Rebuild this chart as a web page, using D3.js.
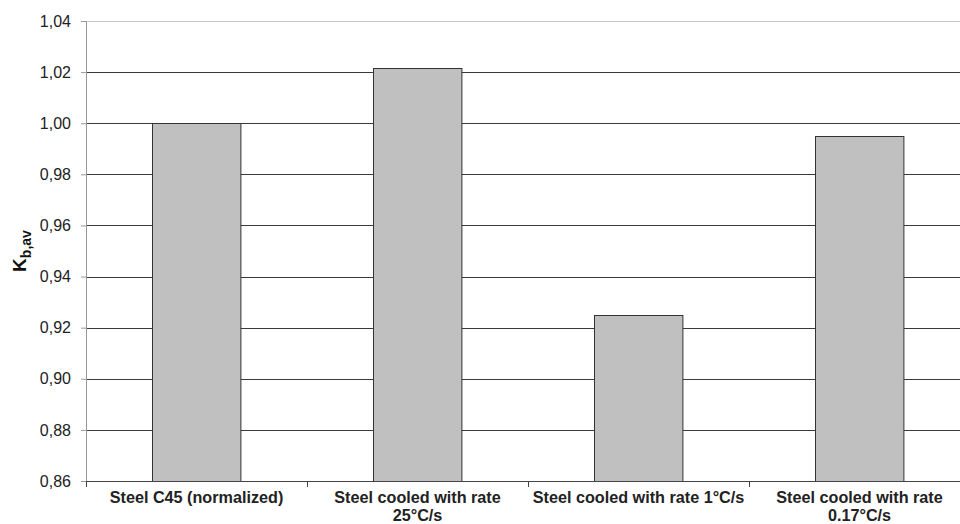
<!DOCTYPE html>
<html>
<head>
<meta charset="utf-8">
<script src="https://cdn.jsdelivr.net/npm/d3@7"></script>
<style>
  body { margin: 0; background: #fff; }
  svg { display: block; }
</style>
</head>
<body>
<svg id="chart"></svg>
<script>
const categories = [
    ["Steel C45 (normalized)"],
    ["Steel cooled with rate", "25°C/s"],
    ["Steel cooled with rate 1°C/s"],
    ["Steel cooled with rate", "0.17°C/s"]
];
const values = [1.000, 1.0215, 0.925, 0.995];
const yTicks = [0.86, 0.88, 0.90, 0.92, 0.94, 0.96, 0.98, 1.00, 1.02, 1.04];

const svgWidth = 960;
const svgHeight = 524;
const margin = { top: 21, right: -10, bottom: 43, left: 86 };
const width = svgWidth - margin.left - margin.right;
const height = svgHeight - margin.top - margin.bottom;

const svg = d3.select("#chart")
    .attr("width", svgWidth)
    .attr("height", svgHeight)
    .style("font-family", "Arial, 'Liberation Sans', sans-serif");

const g = svg.append("g").attr("transform", `translate(${margin.left},${margin.top})`);

const xScale = d3.scaleBand().domain(d3.range(categories.length)).range([0, width]).paddingInner(0.6).paddingOuter(0.3);
const xEdges = d3.scaleBand().domain(d3.range(categories.length)).range([0, width]);
const yScale = d3.scaleLinear().domain([0.86, 1.04]).range([height, 0]);

// gridlines
g.selectAll(".grid")
    .data(yTicks.slice(1))
    .enter().append("line")
    .attr("class", "grid")
    .attr("x1", 0)
    .attr("x2", svgWidth - margin.left)
    .attr("y1", d => Math.round(yScale(d)) + 0.5)
    .attr("y2", d => Math.round(yScale(d)) + 0.5)
    .attr("stroke", d => d === 1.04 ? "#c8c8c8" : "#3a3a3a")
    .attr("stroke-width", 1);

// bars
g.selectAll(".bar")
    .data(values)
    .enter().append("rect")
    .attr("class", "bar")
    .attr("x", (d, i) => Math.round(xScale(i)) + 0.5)
    .attr("y", d => Math.round(yScale(d)) + 0.5)
    .attr("width", xScale.bandwidth())
    .attr("height", d => height - Math.round(yScale(d)))
    .attr("fill", "#c0c0c0")
    .attr("stroke", "#333")
    .attr("stroke-width", 1);

// y axis
const yAxis = g.append("g")
    .call(d3.axisLeft(yScale).tickValues(yTicks).tickSize(5).tickPadding(10)
        .tickFormat(d => d3.format(".2f")(d).replace(".", ",")));
yAxis.select(".domain").attr("stroke", "#999");
yAxis.selectAll(".tick line").attr("stroke", "#999");
yAxis.selectAll(".tick text")
    .style("font-size", "16px")
    .attr("fill", "#222");

// x axis
const xAxis = g.append("g").attr("transform", `translate(0,${height})`);
xAxis.append("line")
    .attr("x1", 0).attr("x2", svgWidth - margin.left)
    .attr("y1", 0.5).attr("y2", 0.5)
    .attr("stroke", "#444");
xAxis.selectAll(".xtick")
    .data(d3.range(categories.length + 1))
    .enter().append("line")
    .attr("class", "xtick")
    .attr("x1", i => Math.round(i * xEdges.step()) + 0.5)
    .attr("x2", i => Math.round(i * xEdges.step()) + 0.5)
    .attr("y1", 0).attr("y2", 6)
    .attr("stroke", "#444");

const labels = xAxis.selectAll(".xlabel")
    .data(categories)
    .enter().append("text")
    .attr("class", "xlabel")
    .attr("text-anchor", "middle")
    .attr("transform", (d, i) => `translate(${xScale(i) + xScale.bandwidth() / 2},0)`)
    .style("font-size", "16.2px")
    .style("font-weight", "bold")
    .attr("fill", "#222");

labels.selectAll("tspan")
    .data(d => d)
    .enter().append("tspan")
    .attr("x", 0)
    .attr("y", (d, j) => 22 + j * 18)
    .text(d => d);

// y axis title
const yTitle = svg.append("text")
    .attr("transform", `translate(26,${margin.top + height / 2}) rotate(-90)`)
    .attr("text-anchor", "middle")
    .style("font-weight", "bold")
    .attr("fill", "#111");
yTitle.append("tspan").style("font-size", "19px").text("K");
yTitle.append("tspan").style("font-size", "14px").attr("dy", 5).text("b,av");
</script>
</body>
</html>
